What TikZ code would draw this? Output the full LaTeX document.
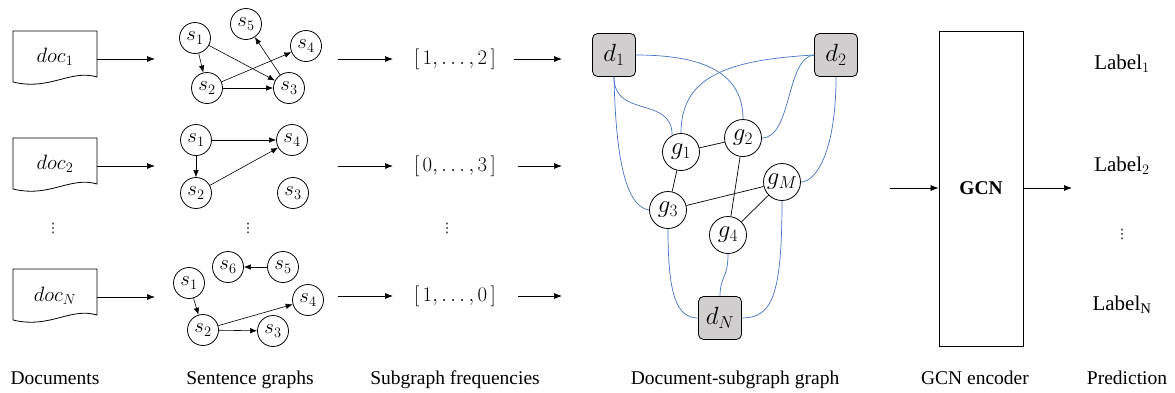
\documentclass[tikz,border=0pt]{standalone}
\usepackage{fontspec}
\setmainfont{Liberation Serif}
\newfontfamily\dejavu{DejaVu Sans}
\usetikzlibrary{arrows.meta}
\definecolor{edgeblue}{RGB}{68,114,196}
\definecolor{docgray}{RGB}{208,206,206}
\begin{document}
\begin{tikzpicture}[x=1pt,y=-1pt,
  every node/.style={font=\fontsize{19.5}{23}\selectfont},
  mathbig/.style={font=\fontsize{21}{24}\selectfont},
  vdotsnode/.style={font=\fontsize{13}{14}\dejavu, inner sep=0pt},
  arr/.style={draw, line width=0.7pt, -{Latex[length=8pt,width=6pt]}},
  sarr/.style={draw, line width=0.6pt, -{Latex[length=7pt,width=5.5pt]}},
  snode/.style={circle, draw, line width=0.8pt, minimum size=31pt, inner sep=0pt, font=\fontsize{21}{24}\selectfont},
  gnode/.style={circle, draw, line width=0.8pt, minimum size=37pt, inner sep=0pt, font=\fontsize{23}{26}\selectfont},
  dnode/.style={rectangle, rounded corners=5pt, draw, line width=0.8pt, fill=docgray, minimum size=43pt, inner sep=0pt, font=\fontsize{23}{26}\selectfont},
  blueedge/.style={draw=edgeblue, line width=0.7pt},
  blackedge/.style={draw, line width=0.7pt},
  docshape/.style={draw, line width=0.8pt},
  caption/.style={anchor=base}
]
\useasboundingbox (0,0) rectangle (1175,392);

% ---------- Documents ----------
\foreach \y in {31,138,269}{
  \draw[docshape] (13,{\y+51}) -- (13,\y) -- (97,\y) -- (97,{\y+46})
     .. controls (70,{\y+38}) and (50,{\y+60}) .. (13,{\y+51});
}
\node[mathbig] (doc1) at (55,57) {$doc_1$};
\node[mathbig] (doc2) at (55,164) {$doc_2$};
\node[mathbig] (docN) at (55,296) {$doc_N$};
\node[vdotsnode] (ddots1) at (53,228) {⋮};

\coordinate (a1s) at (97,59);  \coordinate (a1e) at (155,59);
\coordinate (a2s) at (97,166); \coordinate (a2e) at (155,166);
\coordinate (a3s) at (97,297); \coordinate (a3e) at (155,297);
\draw[arr] (a1s) -- (a1e);
\draw[arr] (a2s) -- (a2e);
\draw[arr] (a3s) -- (a3e);

% ---------- Sentence graphs ----------
\node[snode] (A1) at (195,38) {$s_1$};
\node[snode] (A5) at (246,24) {$s_5$};
\node[snode] (A4) at (306,46) {$s_4$};
\node[snode] (A2) at (207,88) {$s_2$};
\node[snode] (A3) at (289,88) {$s_3$};
\draw[sarr] (A1) -- (A2);
\draw[sarr] (A1) -- (A3);
\draw[sarr] (A2) -- (A3);
\draw[sarr] (A2) -- (A4);
\draw[sarr] (A3) -- (A5);

\node[snode] (B1) at (196,140) {$s_1$};
\node[snode] (B4) at (292,140) {$s_4$};
\node[snode] (B2) at (196,193) {$s_2$};
\node[snode] (B3) at (293,193) {$s_3$};
\draw[sarr] (B1) -- (B4);
\draw[sarr] (B1) -- (B2);
\draw[sarr] (B2) -- (B4);

\node[vdotsnode] (sdots) at (248,228) {⋮};

\node[snode] (C6) at (228,267) {$s_6$};
\node[snode] (C5) at (283,267) {$s_5$};
\node[snode] (C1) at (189,283) {$s_1$};
\node[snode] (C4) at (308,300) {$s_4$};
\node[snode] (C2) at (203,330) {$s_2$};
\node[snode] (C3) at (273,331) {$s_3$};
\draw[sarr] (C5) -- (C6);
\draw[sarr] (C1) -- (C2);
\draw[sarr] (C2) -- (C4);
\draw[sarr] (C2) -- (C3);

% ---------- Subgraph frequencies ----------
\coordinate (b1s) at (338,59);  \coordinate (b1e) at (393,59);
\coordinate (b2s) at (338,166); \coordinate (b2e) at (393,166);
\coordinate (b3s) at (338,296); \coordinate (b3e) at (393,296);
\draw[arr] (b1s) -- (b1e);
\draw[arr] (b2s) -- (b2e);
\draw[arr] (b3s) -- (b3e);
\node (v1) at (455,59) {$[\,1,\ldots,2\,]$};
\node (v2) at (455,166) {$[\,0,\ldots,3\,]$};
\node (vN) at (455,296) {$[\,1,\ldots,0\,]$};
\node[vdotsnode] (vdots) at (447,228) {⋮};
\coordinate (c1s) at (514,59);  \coordinate (c1e) at (562,59);
\coordinate (c2s) at (518,166); \coordinate (c2e) at (562,166);
\coordinate (c3s) at (518,296); \coordinate (c3e) at (562,296);
\draw[arr] (c1s) -- (c1e);
\draw[arr] (c2s) -- (c2e);
\draw[arr] (c3s) -- (c3e);

% ---------- Document-subgraph graph ----------
\node[dnode] (d1) at (614,55) {$d_1$};
\node[dnode] (d2) at (836,55) {$d_2$};
\node[dnode] (dN) at (720,318) {$d_N$};
\node[gnode] (g1) at (681,152) {$g_1$};
\node[gnode] (g2) at (743,138) {$g_2$};
\node[gnode] (gM) at (782,182) {$g_M$};
\node[gnode] (g3) at (668,210) {$g_3$};
\node[gnode] (g4) at (728,235) {$g_4$};

\draw[blackedge] (g1) -- (g2);
\draw[blackedge] (g1) -- (g3);
\draw[blackedge] (g3) -- (gM);
\draw[blackedge] (g2) -- (g4);
\draw[blackedge] (g4) -- (gM);

\draw[blueedge] (d1.east) .. controls +(70,0) and +(0,-45) .. (g2.north);
\draw[blueedge] (d1.south) .. controls +(0,42) and +(0,-40) .. (g1.118);
\draw[blueedge] (d1.south) .. controls +(2,95) and +(-20,-3) .. (g3.west);
\draw[blueedge] (d2.west) .. controls +(-90,5) and +(0,-55) .. (g1.north);
\draw[blueedge] (d2.west) .. controls +(-28,2) and +(30,0) .. (g2.east);
\draw[blueedge] (d2.south) .. controls +(0,75) and +(15,0) .. (gM.east);
\draw[blueedge] (g3.south) .. controls +(0,65) and +(-22,0) .. (dN.west);
\draw[blueedge] (g4.south) .. controls +(0,25) and +(0,-20) .. (dN.north);
\draw[blueedge] (gM.south) .. controls +(0,95) and +(30,0) .. (dN.east);

% ---------- GCN ----------
\node[draw, line width=0.8pt, minimum width=84pt, minimum height=315pt, inner sep=0pt,
      font=\fontsize{19.5}{23}\selectfont\bfseries] (gcn) at (981,188.5) {GCN};
\coordinate (gin) at (890,188);
\coordinate (gout) at (1072,188);
\draw[arr] (gin) -- (gcn.west |- gin);
\draw[arr] (gcn.east |- gout) -- (gout);

% ---------- Predictions ----------
\node[mathbig] (l1) at (1122,64) {$\mathrm{Label}_1$};
\node[mathbig] (l2) at (1122,166) {$\mathrm{Label}_2$};
\node[vdotsnode] (ldots) at (1122,234) {⋮};
\node[mathbig] (lN) at (1122,305) {$\mathrm{Label}_{\mathrm{N}}$};

% ---------- Captions ----------
\node[caption] (cap1) at (55,384) {Documents};
\node[caption] (cap2) at (250,384) {Sentence graphs};
\node[caption] (cap3) at (455,384) {Subgraph frequencies};
\node[caption] (cap4) at (735,384) {Document-subgraph graph};
\node[caption] (cap5) at (975,384) {GCN encoder};
\node[caption] (cap6) at (1127,384) {Prediction};
\end{tikzpicture}
\end{document}
